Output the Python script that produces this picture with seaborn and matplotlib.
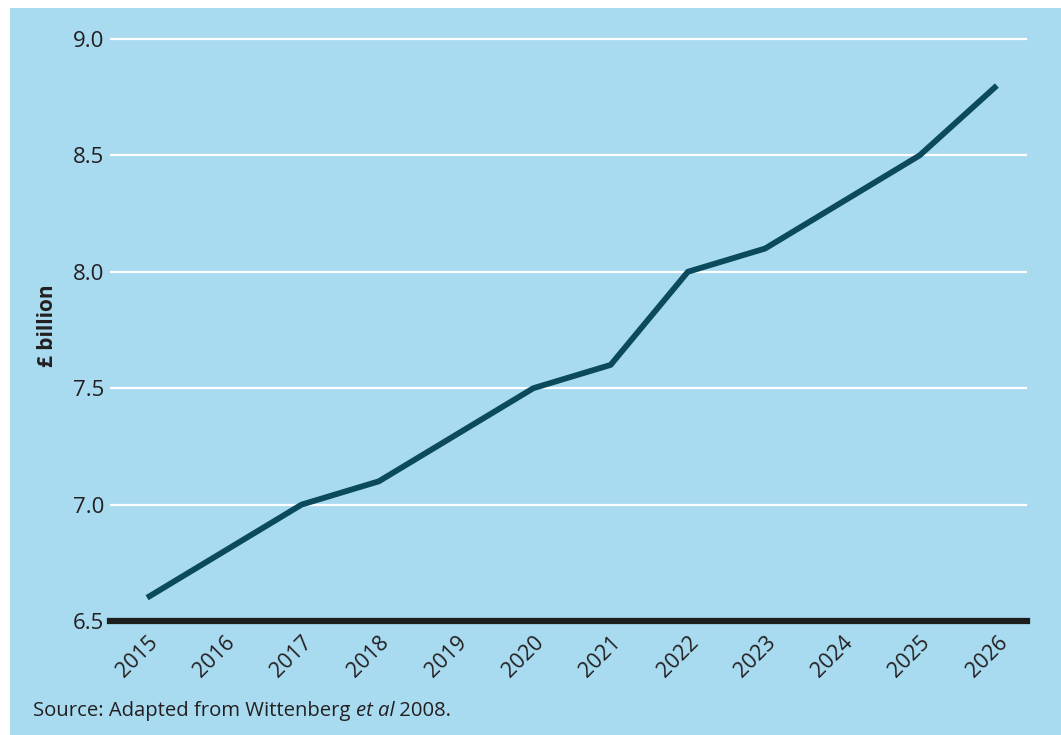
import matplotlib
matplotlib.use("Agg")
import matplotlib.pyplot as plt
import seaborn as sns
import pandas as pd
from matplotlib.patches import Rectangle

years = [2015, 2016, 2017, 2018, 2019, 2020, 2021, 2022, 2023, 2024, 2025, 2026]
spend = [6.6, 6.8, 7.0, 7.1, 7.3, 7.5, 7.6, 8.0, 8.1, 8.3, 8.5, 8.8]
y_ticks = [6.5, 7.0, 7.5, 8.0, 8.5, 9.0]

bg = "#a8dbf0"
line_col = "#0b4a5c"
txt = "#231f20"

sns.set_theme(style="white")
plt.rcParams["font.family"] = ["Open Sans", "DejaVu Sans"]

df = pd.DataFrame({"year": years, "spend": spend})

fig = plt.figure(figsize=(10.61, 7.35), dpi=100)
fig.patch.set_facecolor("white")
panel = Rectangle((10 / 1061, 0), 1 - 10 / 1061, 1 - 8 / 735,
                  transform=fig.transFigure, facecolor=bg,
                  edgecolor="none", zorder=-10)
fig.patches.append(panel)

ax = fig.add_axes([110 / 1061, 1 - 621 / 735, (1027 - 110) / 1061, (621 - 30) / 735])
ax.set_zorder(5)
ax.set_facecolor(bg)

for v in y_ticks[1:]:
    ax.axhline(v, color="white", lw=1.6, zorder=1)

sns.lineplot(data=df, x="year", y="spend", ax=ax, color=line_col, lw=4.2,
             zorder=3, solid_capstyle="butt")

ax.set_xlim(2015 - 0.48, 2026 + 0.39)
ax.set_ylim(6.5, 6.5 + (621 - 30) / (116.4 * 2))
ax.set_yticks(y_ticks)
ax.set_yticklabels([f"{v:.1f}" for v in y_ticks], fontsize=16, color=txt)
ax.set_xticks(years)
ax.set_xticklabels([str(y) for y in years], rotation=45, ha="right",
                   rotation_mode="anchor", fontsize=15.5, color=txt)
ax.tick_params(axis="y", length=0, pad=4)
ax.tick_params(axis="x", length=0, pad=8)

for s in ["top", "right", "left"]:
    ax.spines[s].set_visible(False)
ax.spines["bottom"].set_color("#1d1d1b")
ax.spines["bottom"].set_linewidth(4.5)
ax.spines["bottom"].set_zorder(4)

ax.set_xlabel("")
ax.set_ylabel("£ billion", fontsize=15, fontweight="bold", color=txt, labelpad=11)

src_y = 1 - 711 / 735
t1 = fig.text(33 / 1061, src_y, "Source: Adapted from Wittenberg ", fontsize=14.6,
              color=txt, va="center", ha="left")
fig.canvas.draw()
x1 = t1.get_window_extent().x1 / fig.bbox.width
t2 = fig.text(x1, src_y, "et al", fontsize=14.6, style="italic",
              color=txt, va="center", ha="left")
fig.canvas.draw()
x2 = t2.get_window_extent().x1 / fig.bbox.width
fig.text(x2, src_y, " 2008.", fontsize=14.6, color=txt, va="center", ha="left")

fig.savefig("out.png", dpi=100, facecolor=fig.get_facecolor())
